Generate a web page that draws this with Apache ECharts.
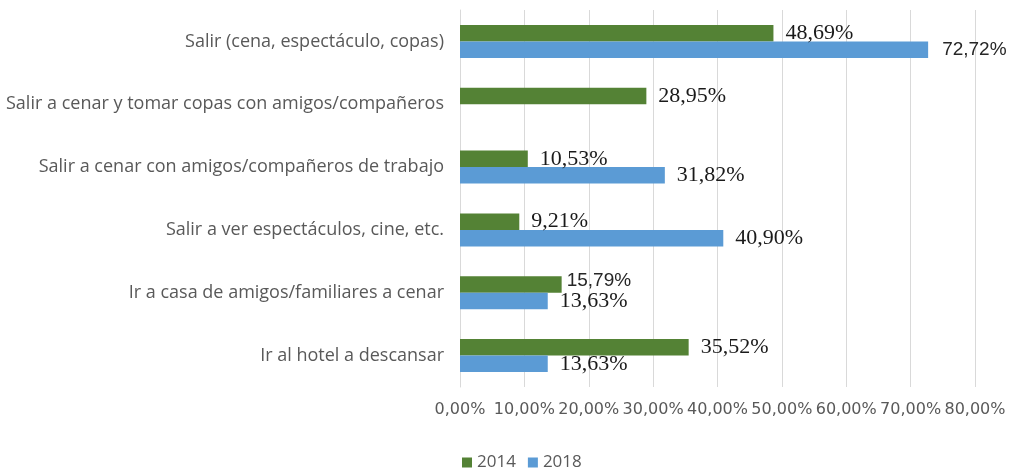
<!DOCTYPE html>
<html>
<head>
<meta charset="utf-8">
<script src="https://cdn.jsdelivr.net/npm/echarts@6/dist/echarts.min.js"></script>
<style>
  html, body { margin: 0; padding: 0; background: #fff; }
  #main { width: 1011px; height: 469px; }
</style>
</head>
<body>
<div id="main"></div>
<script>
// categorias, de arriba a abajo
var categorias = [
    'Salir (cena, espectáculo, copas)',
    'Salir a cenar y tomar copas con amigos/compañeros',
    'Salir a cenar con amigos/compañeros de trabajo',
    'Salir a ver espectáculos, cine, etc.',
    'Ir a casa de amigos/familiares a cenar',
    'Ir al hotel a descansar'
];
var anios = ['2014', '2018'];
var datos2014 = [48.69, 28.95, 10.53, 9.21, 15.79, 35.52];
var datos2018 = [72.72, null, 31.82, 40.90, 13.63, 13.63];
var ticksEje = [0, 10, 20, 30, 40, 50, 60, 70, 80];

var colores = ['#548235', '#5b9bd5'];

function pct(v) {
    return v.toFixed(2).replace('.', ',') + '%';
}

// etiquetas con letra distinta (en el original salen sin serifa)
var sinSerifa = { '2014': [4], '2018': [0] };

function serie(nombre, valores, color) {
    return {
        name: nombre,
        type: 'bar',
        barWidth: 16.5,
        barGap: '0%',
        itemStyle: { color: color },
        label: {
            show: true,
            position: 'right',
            distance: 12,
            color: '#1a1a1a',
            fontFamily: 'Liberation Serif',
            fontSize: 22,
            formatter: function (p) { return pct(p.value); }
        },
        data: valores.map(function (v, i) {
            if (v === null) return '-';
            if (sinSerifa[nombre].indexOf(i) >= 0) {
                return {
                    value: v,
                    label: {
                        fontFamily: 'Liberation Sans',
                        fontSize: 19,
                        color: '#262626',
                        distance: nombre === '2014' ? 5 : 14,
                        offset: nombre === '2014' ? [0, -4] : [0, 0]
                    }
                };
            }
            return v;
        })
    };
}

var chart = echarts.init(document.getElementById('main'));
chart.setOption({
    animation: false,
    grid: { left: 460, right: 36, top: 10, bottom: 82 },
    legend: {
        data: anios,
        left: 457,
        top: 449,
        icon: 'rect',
        itemWidth: 10,
        itemHeight: 10,
        itemGap: 12,
        textStyle: { color: '#595959', fontSize: 17, fontFamily: 'Open Sans' }
    },
    xAxis: {
        type: 'value',
        min: ticksEje[0],
        max: ticksEje[ticksEje.length - 1],
        interval: 10,
        axisLine: { show: false },
        axisTick: { show: false },
        splitLine: { lineStyle: { color: '#d9d9d9' } },
        axisLabel: {
            color: '#595959',
            fontSize: 16,
            fontFamily: 'DejaVu Sans',
            margin: 15,
            formatter: function (v) { return pct(v); }
        }
    },
    yAxis: {
        type: 'category',
        inverse: true,
        data: categorias,
        axisLine: { lineStyle: { color: '#d9d9d9' } },
        axisTick: { show: false },
        axisLabel: {
            color: '#595959',
            fontSize: 18,
            fontFamily: 'Open Sans',
            margin: 16
        }
    },
    series: [
        serie('2014', datos2014, colores[0]),
        serie('2018', datos2018, colores[1])
    ]
});
</script>
</body>
</html>
